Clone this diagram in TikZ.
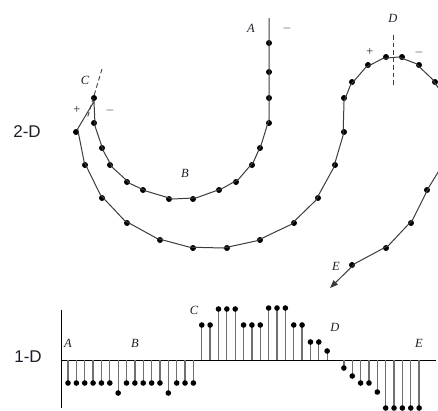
\documentclass[tikz,border=0pt]{standalone}
\usepackage{fontspec}
\setmainfont{Liberation Serif}
\setsansfont{Liberation Sans}
\usetikzlibrary{arrows.meta, positioning}
\definecolor{cline}{HTML}{3C3C3C}
\definecolor{cstem}{HTML}{707070}
\definecolor{ctext}{HTML}{1E1E2A}
\tikzset{
  every picture/.style={x=1pt, y=-1pt, line width=0.9pt},
  curve/.style={draw=cline, line width=1pt},
  dot/.style={circle, fill=black, inner sep=0pt, minimum size=6pt},
  sdot/.style={circle, fill=black, inner sep=0pt, minimum size=5.6pt},
  cut/.style={draw=cline, dash pattern=on 4.5pt off 3pt, line width=0.9pt},
  letter/.style={font=\fontsize{12.5}{12.5}\selectfont\itshape, text=ctext},
  sign/.style={font=\fontsize{12.5}{12.5}\selectfont, text=ctext},
  dim/.style={font=\sffamily\fontsize{17}{17}\selectfont, text=ctext},
  stem/.style={draw=cstem, line width=1.3pt},
  axis/.style={draw=black, line width=1pt},
}

\begin{document}
\begin{tikzpicture}
  \useasboundingbox (0,0) rectangle (438,410);
  \clip (0,0) rectangle (438,410);

  % 2-D contour
  \node[dim] (d2) at (27,132) {2-D};
  \foreach \x/\y [count=\i] in {269/43, 269/72, 269/98, 269/123, 260/148, 252/165,
      236/182, 219/190, 193/199, 169/199, 143/190, 127/182, 110/165, 102/148,
      94/123, 94/98, 76/132, 85/165, 102/198, 127/223, 160/240, 193/248,
      227/248, 260/240, 294/223, 318/198, 335/165, 344/132, 344/98, 352/82,
      368/65, 386/57, 402/57, 419/65, 435/82, 449/104, 455/132, 448/158,
      427/190, 411/223, 386/248, 352/265}
    \node[dot] (p\i) at (\x,\y) {};
  \coordinate (start) at (269,18);
  \coordinate (tip) at (330,288);
  \draw[curve, -{Triangle[length=8pt, width=6pt]}] (start)
    \foreach \i in {1,...,42} {-- (p\i)} -- (tip);

  % cuts at C and D
  \coordinate (ctop) at (102,69);
  \coordinate (cbot) at (87,119);
  \draw[cut] (ctop) -- (cbot);
  \coordinate (dtop) at (393,35);
  \coordinate (dbot) at (393,85);
  \draw[cut] (dtop) -- (dbot);

  \node[letter] (la) at (251,28) {A};
  \node[sign] (ma) at (287,28) {$-$};
  \node[letter] (lb) at (185,173) {B};
  \node[letter] (lc) at (85,80) {C};
  \node[sign] (pc) at (77,110) {+};
  \node[sign] (mc) at (110,110) {$-$};
  \node[letter] (ld) at (393,18) {D};
  \node[sign] (pd) at (370,52) {+};
  \node[sign] (md) at (419,52) {$-$};
  \node[letter] (le) at (336,266) {E};

  % 1-D signal
  \node[dim] (d1) at (28,357) {1-D};
  \coordinate (o) at (61,360);
  \coordinate (xend) at (436,360);
  \coordinate (ytop) at (61,310);
  \coordinate (ybot) at (61,408);
  \draw[axis] (ytop) -- (ybot);
  \draw[axis] (o) -- (xend);
  \foreach \v [count=\i from 0] in {-23,-23,-23,-23,-23,-23,-33,-23,-23,-23,-23,
      -23,-33,-23,-23,-23,35,35,51,51,51,35,35,35,52,52,52,35,35,18,18,9,0,
      -8,-16,-23,-23,-32,-48,-48,-48,-48,-48}
  {
    \ifnum\v=0 \else
      \draw[stem] (68+8.36*\i,360) -- (68+8.36*\i,360-\v) node[sdot] (s\i) {};
    \fi
  }

  \node[letter] (sa) at (68,343) {A};
  \node[letter] (sb) at (135,343) {B};
  \node[letter] (sc) at (194,310) {C};
  \node[letter] (sd) at (335,327) {D};
  \node[letter] (se) at (419,343) {E};
\end{tikzpicture}
\end{document}
